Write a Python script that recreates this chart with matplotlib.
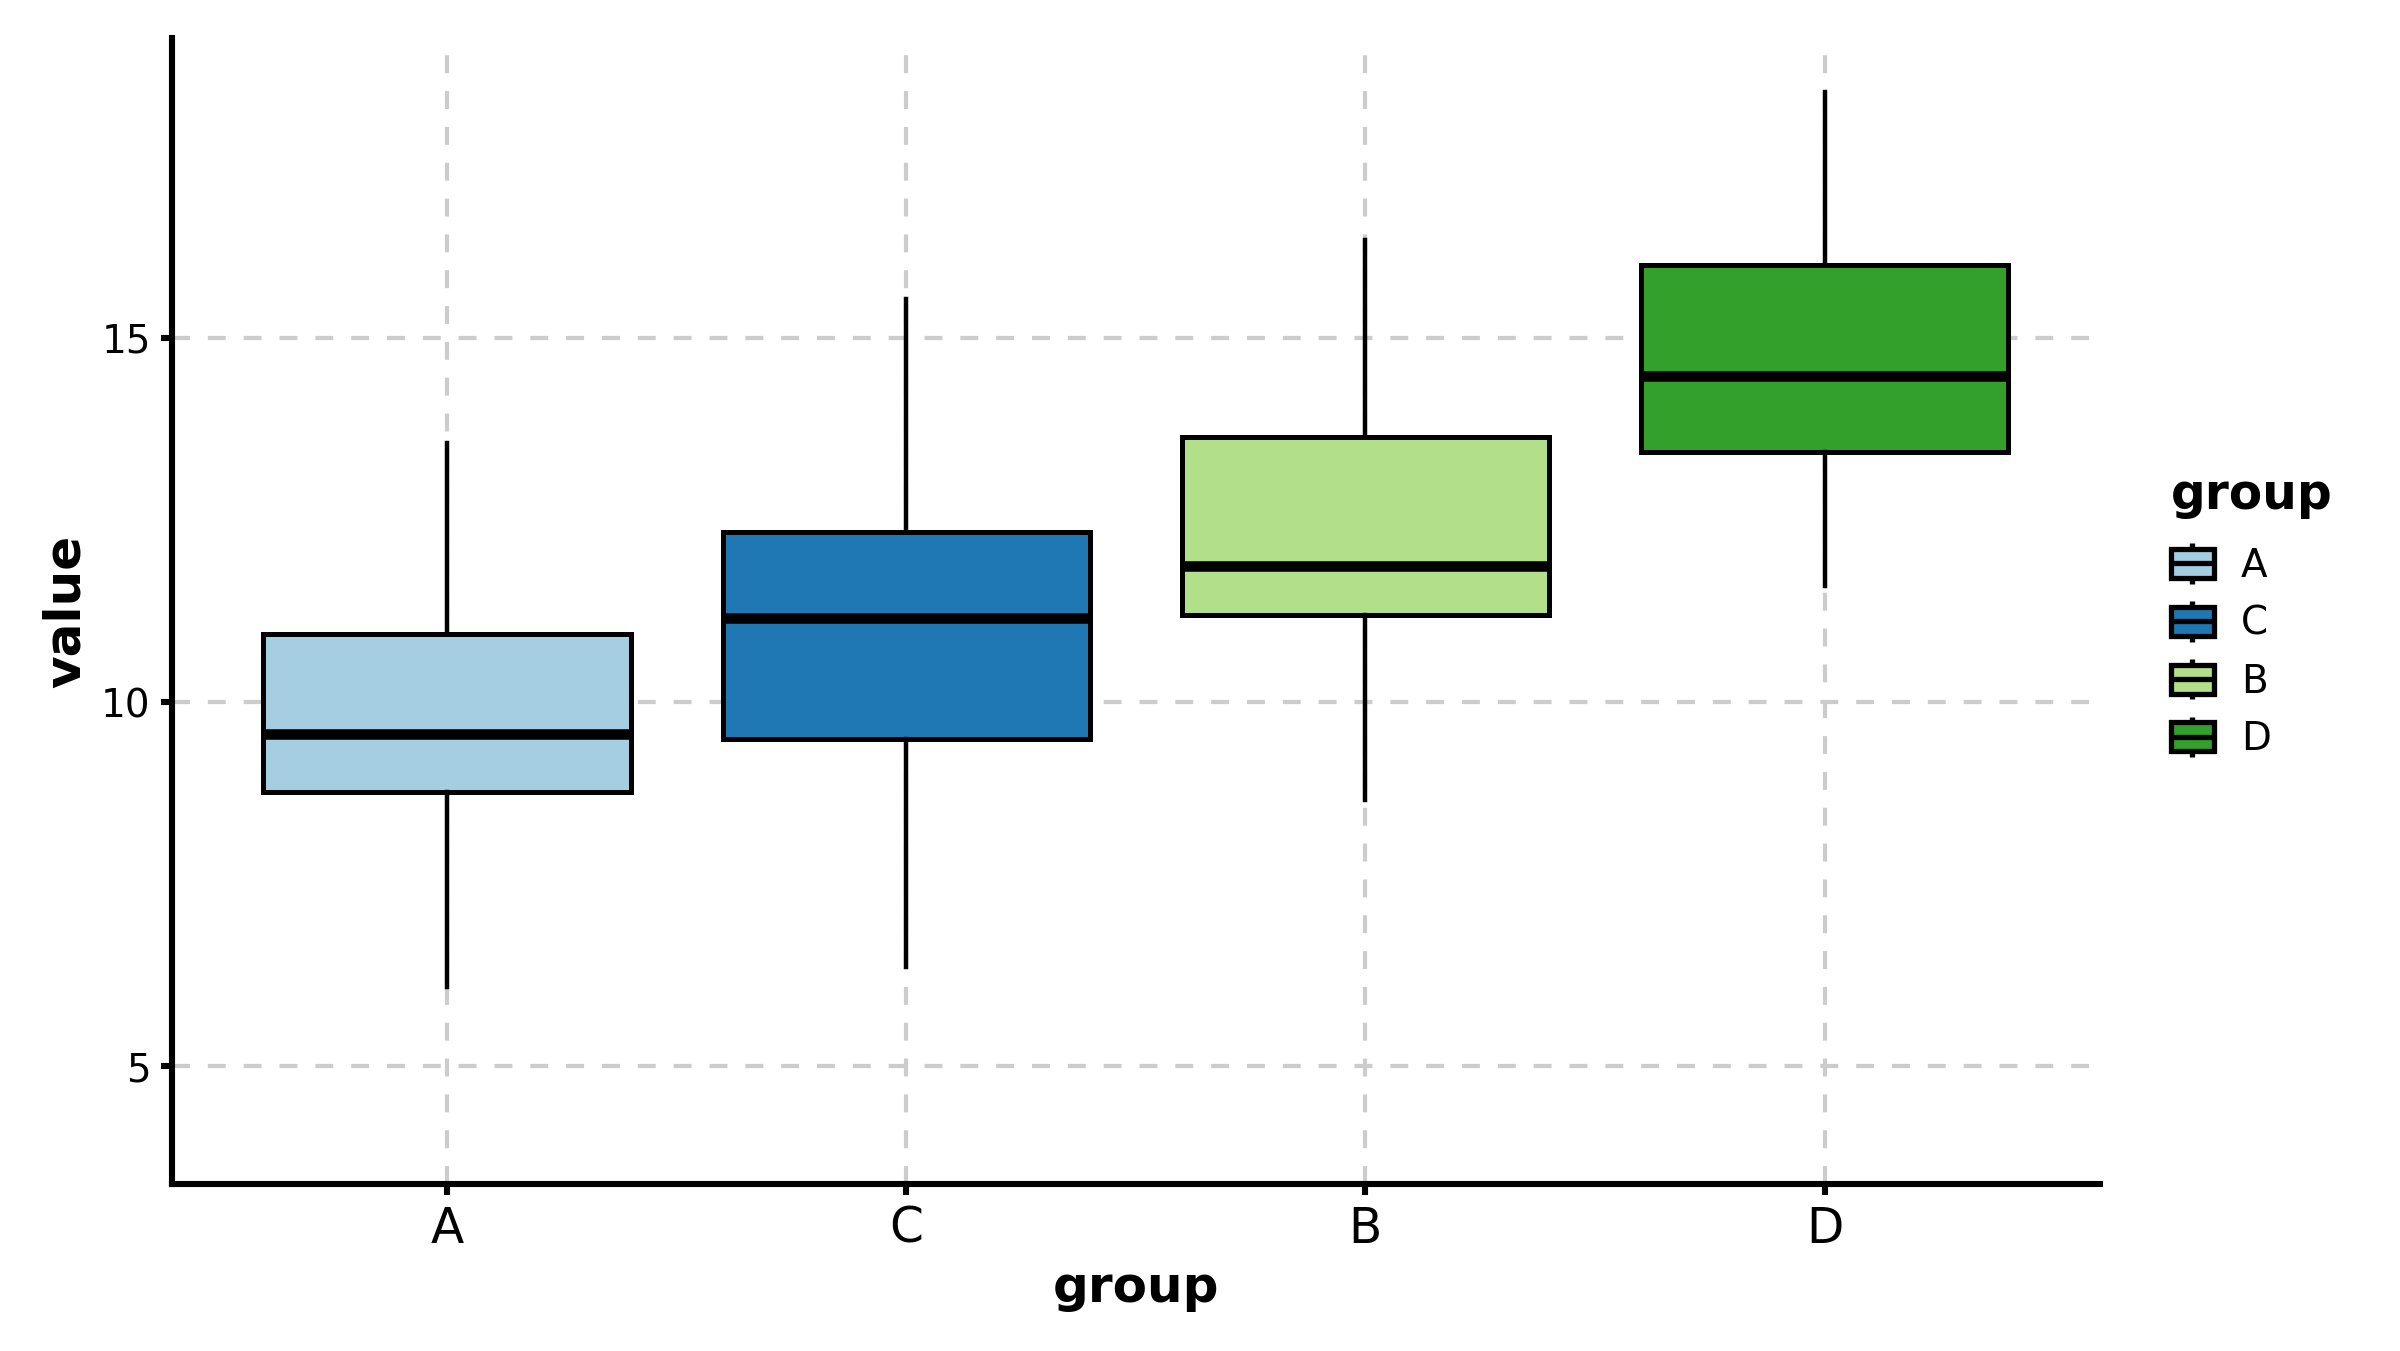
import matplotlib
matplotlib.use("Agg")
import matplotlib.pyplot as plt
from matplotlib.legend_handler import HandlerBase
from matplotlib.patches import Rectangle, Patch
from matplotlib.lines import Line2D

groups = ["A", "C", "B", "D"]
colors = ["#a6cee3", "#1f78b4", "#b2df8a", "#33a02c"]
whislo = [6.08, 6.36, 8.65, 11.60]
q1 = [8.76, 9.49, 11.20, 13.43]
med = [9.56, 11.16, 11.87, 14.48]
q3 = [10.93, 12.34, 13.64, 16.00]
whishi = [13.56, 15.54, 16.34, 18.38]


class BoxHandler(HandlerBase):
    # little boxplot glyph for the legend
    def create_artists(self, legend, orig_handle, xdescent, ydescent,
                       width, height, fontsize, trans):
        x0, y0 = -xdescent, -ydescent
        w = width
        lw = 1.9
        rect = Rectangle((x0, y0), w, height, facecolor=orig_handle.get_facecolor(),
                         edgecolor="black", linewidth=lw, transform=trans)
        cx = x0 + w / 2
        stub = height * 0.2
        m = Line2D([x0, x0 + w], [y0 + height / 2] * 2, color="black",
                   linewidth=lw, transform=trans, solid_capstyle="butt")
        t = Line2D([cx, cx], [y0 + height, y0 + height + stub], color="black",
                   linewidth=lw, transform=trans, solid_capstyle="butt")
        b = Line2D([cx, cx], [y0 - stub, y0], color="black",
                   linewidth=lw, transform=trans, solid_capstyle="butt")
        return [rect, m, t, b]


fig = plt.figure(figsize=(12, 6.755), dpi=200)
ax = fig.add_axes([0.0715, 0.1236, 0.8035, 0.8483])

stats = []
for i, g in enumerate(groups):
    stats.append({"label": g, "whislo": whislo[i], "q1": q1[i], "med": med[i],
                  "q3": q3[i], "whishi": whishi[i], "fliers": []})

bp = ax.bxp(stats, positions=range(len(groups)), widths=0.8, patch_artist=True,
            showcaps=False, showfliers=False,
            boxprops=dict(edgecolor="black", linewidth=1.8),
            whiskerprops=dict(color="black", linewidth=1.6),
            medianprops=dict(color="black", linewidth=3.8, solid_capstyle="butt"))
for patch, c in zip(bp["boxes"], colors):
    patch.set_facecolor(c)
for art in bp["boxes"] + bp["whiskers"] + bp["medians"]:
    art.set_zorder(3)

ax.set_xlim(-0.6, 3.6)
ax.set_ylim(3.38, 19.12)
ax.set_yticks([5, 10, 15])
ax.set_xticks(range(len(groups)))
ax.set_xticklabels(groups)
ax.grid(True, linestyle=(0, (4.3, 4.3)), color="#cccccc", linewidth=1.5)
ax.set_axisbelow(True)
for s in ["top", "right"]:
    ax.spines[s].set_visible(False)
for s in ["left", "bottom"]:
    ax.spines[s].set_linewidth(2.2)
ax.tick_params(axis="x", labelsize=17.5, width=2.2, length=4)
ax.tick_params(axis="y", labelsize=14, width=2.2, length=4)
ax.set_xlabel("group", fontsize=18, fontweight="bold")
ax.set_ylabel("value", fontsize=18, fontweight="bold")

handles = [Patch(facecolor=c) for c in colors]
leg = fig.legend(handles, groups, title="group", loc="upper left",
                 bbox_to_anchor=(0.9046, 0.651), frameon=False, fontsize=14,
                 title_fontproperties={"weight": "bold", "size": 17.5},
                 handler_map={Patch: BoxHandler()}, handlelength=1.1,
                 handleheight=0.77, labelspacing=0.51, handletextpad=0.7,
                 borderpad=0, borderaxespad=0, alignment="left")
# a bit more room between the title and the entries
leg._legend_box.sep = 9.9

fig.savefig("out.png", dpi=200)
